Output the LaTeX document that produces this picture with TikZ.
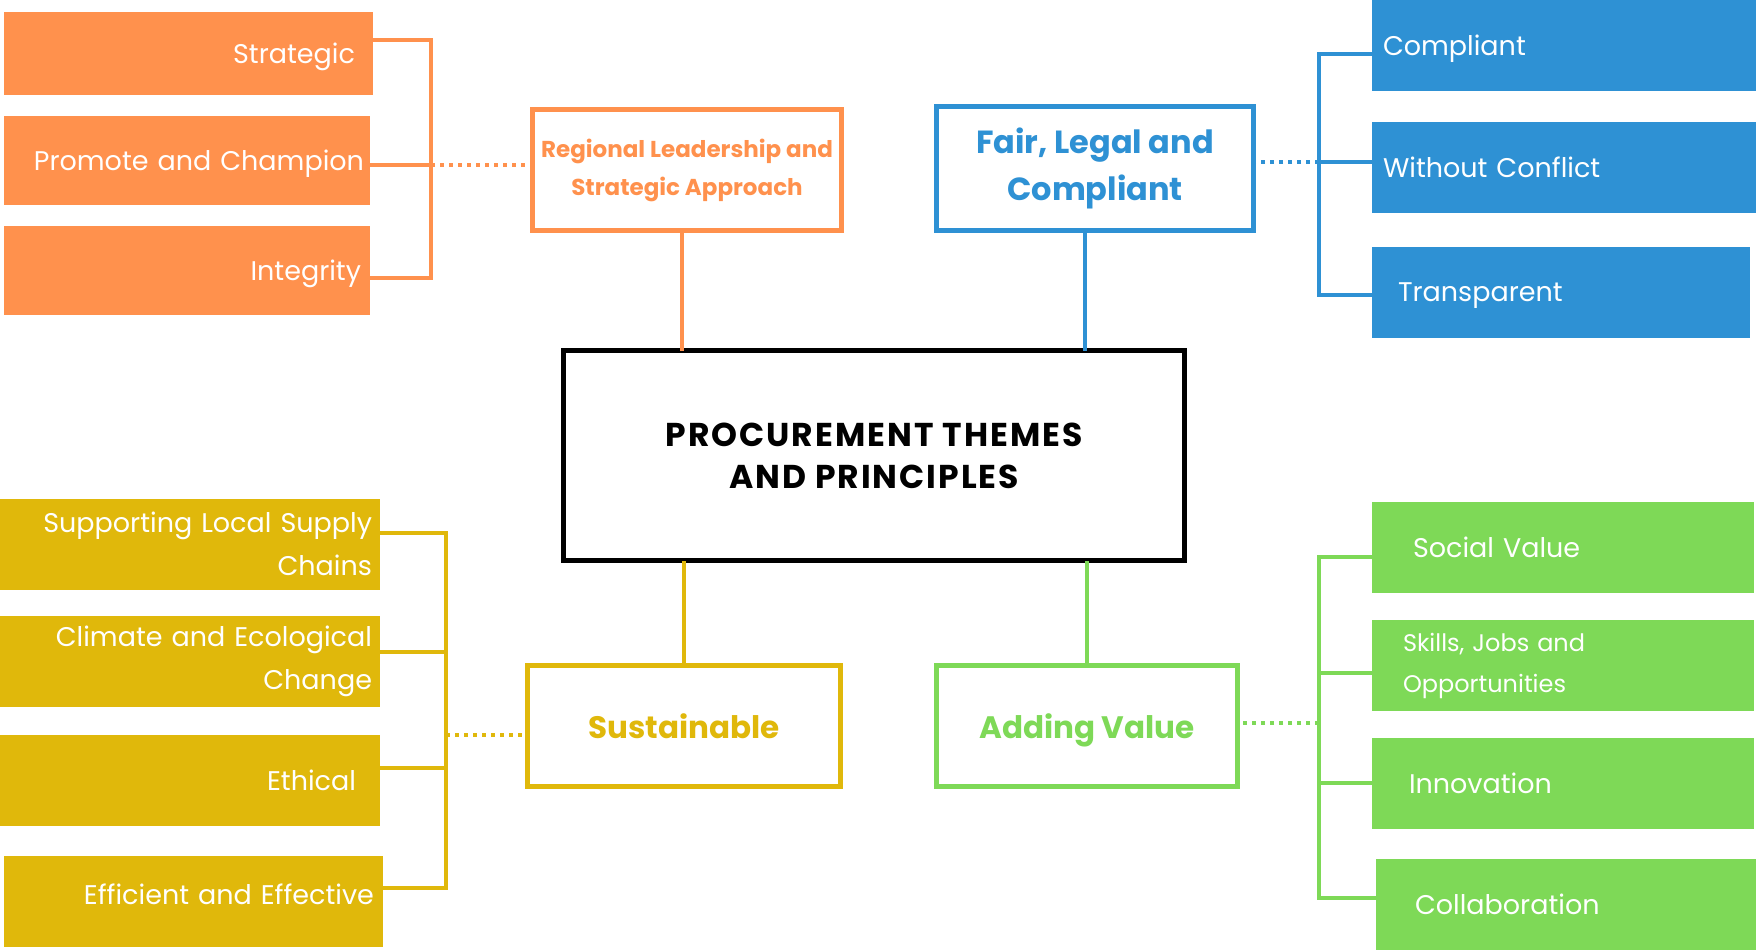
\documentclass[tikz,border=0pt]{standalone}
\usepackage{fontspec}
\setmainfont{Poppins}
\usetikzlibrary{positioning}
\definecolor{porange}{HTML}{FF914D}
\definecolor{pblue}{HTML}{2E91D4}
\definecolor{pyellow}{HTML}{E0B80B}
\definecolor{pgreen}{HTML}{7ED957}

\begin{document}
\begin{tikzpicture}[
        x=.5pt, y=-.5pt,
        line width=2pt,
        outer sep=0pt,
        % on grid ,
        leaf/.style ={text=white, minimum height=45.5pt, font=\fontsize{13.5pt}{21.5pt}\selectfont},
        lleaf/.style ={leaf, align=right, inner xsep=4pt, text width=182pt},
        rleaf/.style ={leaf, align=left, inner xsep=5.5pt, text width=181pt},
        oneline/.style ={text depth=0pt},
        theme/.style ={draw, line width=2.5pt, fill=white, inner sep=0pt, align=center, font=\bfseries\fontsize{15.5pt}{23.5pt}\selectfont},
        dots/.style ={dash pattern=on 2pt off 2.5pt},
    ]
    \useasboundingbox (0,0) rectangle (1756,950);

    \node[theme, minimum width=310.5pt, minimum height=105pt, font=\bfseries\fontsize{16.5pt}{21pt}\selectfont\addfontfeature{LetterSpace=6}] (centre) at (874,455.5) {PROCUREMENT THEMES\\AND PRINCIPLES};
    \node[theme, draw=porange, text=porange, minimum width=154.5pt, minimum height=60.5pt, font=\bfseries\fontsize{11.5pt}{19pt}\selectfont] (region) at (687,170) {Regional Leadership and\\Strategic Approach};
    \node[theme, draw=pblue, text=pblue, minimum width=158.5pt, minimum height=62pt, font=\bfseries\fontsize{16pt}{23.5pt}\selectfont] (fair) at (1095,168.5) {Fair, Legal and\\Compliant};
    \node[theme, oneline, draw=pyellow, text=pyellow, minimum width=156.5pt, minimum height=60.5pt] (sust) at (684,726) {Sustainable};
    \node[theme, oneline, draw=pgreen, text=pgreen, minimum width=150.5pt, minimum height=60.5pt] (addv) at (1087,726) {Adding Value};

    \node[lleaf, oneline, fill=porange, minimum height=41.5pt, inner xsep=9pt, text width=166.5pt] (strat) at (188.5,53.5) {Strategic};
    \node[lleaf, oneline, fill=porange, minimum height=44.5pt, inner xsep=3pt, text width=177pt] (promo) at (187,160.5) {Promote and Champion};
    \node[lleaf, oneline, fill=porange, minimum height=44.5pt, inner xsep=4.5pt, text width=174pt] (integ) at (187,270.5) {Integrity};

    \node[lleaf, fill=pyellow] (supp) at (190,544) {Supporting Local Supply\\Chains};
    \node[lleaf, fill=pyellow] (clim) at (190,661.5) {Climate and Ecological\\Change};
    \node[lleaf, oneline, fill=pyellow, inner xsep=12pt, text width=166pt] (ethi) at (190,780.5) {Ethical};
    \node[lleaf, fill=pyellow, inner xsep=4.5pt, text width=180.5pt, text depth=7pt] (effi) at (193.5,901) {Efficient and Effective};

    \node[rleaf, oneline, fill=pblue] (comp) at (1564,45) {Compliant};
    \node[rleaf, oneline, fill=pblue] (witho) at (1564,167.5) {Without Conflict};
    \node[rleaf, oneline, fill=pblue, inner xsep=13pt, text width=163pt] (trans) at (1561,292.5) {Transparent};

    \node[rleaf, fill=pgreen, inner xsep=20.5pt, text width=150pt] (soc) at (1563,547.5) {Social Value};
    \node[rleaf, fill=pgreen, inner xsep=15.5pt, text width=160pt, font=\fontsize{12pt}{20.5pt}\selectfont] (skil) at (1563,665.5) {Skills, Jobs and\\Opportunities};
    \node[rleaf, fill=pgreen, inner xsep=18.5pt, text width=154pt] (inno) at (1563,783.5) {Innovation};
    \node[rleaf, fill=pgreen, inner xsep=19.5pt, text width=151pt] (coll) at (1566,904.5) {Collaboration};

    \coordinate (o1) at (431,40);
    \coordinate (o2) at (431,165);
    \coordinate (o3) at (431,278);
    \coordinate (od) at (682,233);
    \coordinate (b1) at (1319,54);
    \coordinate (b2) at (1319,162);
    \coordinate (b3) at (1319,295);
    \coordinate (bd) at (1085,233);
    \coordinate (y1) at (446,533);
    \coordinate (y2) at (446,652);
    \coordinate (y3) at (446,768);
    \coordinate (y4) at (446,888);
    \coordinate (yd) at (446,735);
    \coordinate (g1) at (1319,557);
    \coordinate (g2) at (1319,673);
    \coordinate (g3) at (1319,783);
    \coordinate (g4) at (1319,898);
    \coordinate (gd) at (1319,723);

    \draw[porange] (o1 -| strat.east) -- (o1) -- (o3) -- (o3 -| integ.east);
    \draw[porange] (o2 -| promo.east) -- (o2);
    \draw[porange, dots] (o2) -- (o2 -| region.west);
    \draw[porange] (od |- region.south) -- (od |- centre.north);

    \draw[pblue] (b1 -| comp.west) -- (b1) -- (b3) -- (b3 -| trans.west);
    \draw[pblue] (b2 -| witho.west) -- (b2);
    \draw[pblue, dots] (b2) -- (b2 -| fair.east);
    \draw[pblue] (bd |- fair.south) -- (bd |- centre.north);

    \draw[pyellow] (y1 -| supp.east) -- (y1) -- (y4) -- (y4 -| effi.east);
    \draw[pyellow] (y2 -| clim.east) -- (y2);
    \draw[pyellow] (y3 -| ethi.east) -- (y3);
    \draw[pyellow, dots] (yd) -- (yd -| sust.west);
    \draw[pyellow] (sust.north) -- (sust.north |- centre.south);

    \draw[pgreen] (g1 -| soc.west) -- (g1) -- (g4) -- (g4 -| coll.west);
    \draw[pgreen] (g2 -| skil.west) -- (g2);
    \draw[pgreen] (g3 -| inno.west) -- (g3);
    \draw[pgreen, dots] (gd) -- (gd -| addv.east);
    \draw[pgreen] (addv.north) -- (addv.north |- centre.south);

\end{tikzpicture}
\end{document}
